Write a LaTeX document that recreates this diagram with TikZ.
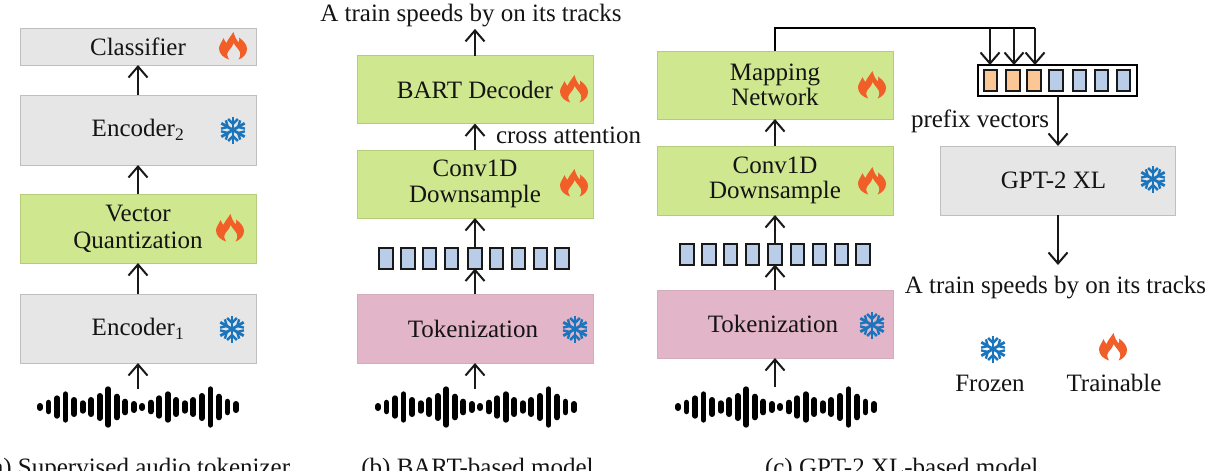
\documentclass[tikz,border=0pt]{standalone}
\usepackage{fontspec}
\setmainfont{Liberation Serif}
\usetikzlibrary{arrows.meta}
\definecolor{gfill}{HTML}{E6E6E6}
\definecolor{gfillb}{HTML}{BFBFBF}
\definecolor{lfill}{HTML}{CFE78F}
\definecolor{lfillb}{HTML}{B5CC7C}
\definecolor{pfill}{HTML}{E3B5C8}
\definecolor{flamec}{HTML}{F15E27}
\definecolor{snowc}{HTML}{1B75BC}
\definecolor{tokb}{HTML}{B9CCE8}
\definecolor{toko}{HTML}{FAC795}
\tikzset{
  x=1pt,y=-1pt,
  every node/.style={inner sep=0pt,outer sep=0pt,font=\fontsize{25}{25.5}\selectfont,text=black!92},
  boxg/.style={draw=gfillb,line width=.8pt,fill=gfill,minimum width=236,align=center},
  boxl/.style={draw=lfillb,line width=.8pt,fill=lfill,minimum width=236,align=center},
  boxp/.style={draw=pfill!85!gray,line width=.8pt,fill=pfill,minimum width=236,align=center},
  tokcell/.style={draw=black!90,line width=2pt,fill=tokb,minimum width=13.5,minimum height=21},
  orgcell/.style={tokcell,fill=toko},
  arr/.style={draw=black!90,line width=2pt,-{Straight Barb[length=11,width=19,line width=2pt]}},
  plainline/.style={draw=black,line width=2pt},
  pics/flame/.style={code={
    \fill[flamec,even odd rule] (0.5,-14) .. controls (2,-8) and (4,-6) .. (5.5,-3.5)
      .. controls (6.5,-5) and (6.5,-7) .. (6,-8.5)
      .. controls (11,-5) and (14,-1) .. (14,3)
      .. controls (14,8) and (10,12) .. (5.5,13.5)
      .. controls (8,10) and (8,6) .. (5,3)
      .. controls (4,1.5) and (2,-0.5) .. (0.5,-3)
      .. controls (0,0) and (-3,3) .. (-4.5,5)
      .. controls (-6.5,8) and (-6,11) .. (-4,13.5)
      .. controls (-9,12) and (-14,8) .. (-14,2.5)
      .. controls (-14,-1) and (-11,-4) .. (-9.5,-8)
      .. controls (-8.5,-5.5) and (-8,-4.5) .. (-6.5,-3)
      .. controls (-5,-7) and (-2,-10) .. (0.5,-14) -- cycle;
  }},
  pics/snow/.style={code={
    \foreach \a in {90,30,-30}{
      \draw[snowc,line width=2.8pt,rotate=\a] (-13.5,0) -- (13.5,0);
    }
    \foreach \a in {0,60,120,180,240,300}{
      \begin{scope}[rotate=\a+30]
      \draw[snowc,line width=2.4pt] (11,-4.8) -- (6,0) -- (11,4.8);
      \end{scope}
    }
  }},
  pics/wave/.style={code={
    \foreach \i/\h in {0/4,1/7.3,2/11.7,3/15.7,4/10,5/6.7,6/10,7/14,8/20.7,9/13.3,10/8.3,11/6,
                       12/4,13/7.3,14/11.7,15/15.7,16/10,17/6.7,18/10,19/14,20/20.7,21/13.3,22/8.3,23/6}{
      \draw[black,line width=5.8pt,line cap=round] ({\i*8.52},{-\h+2.9}) -- ({\i*8.52},{\h-2.9});
    }
  }}
}
\begin{document}
\begin{tikzpicture}
\clip (0,0) rectangle (1208,471);
\fill[white] (0,0) rectangle (1208,471);

% column a
\node[boxg,minimum height=37] (cls) at (138,46.5) {Classifier};
\node[boxg,minimum height=70] (enc2) at (138,130) {Encoder\textsubscript{2}};
\node[boxl,minimum height=69] (vq) at (138,228.5) {Vector\\[1.5pt]Quantization};
\node[boxg,minimum height=69] (enc1) at (138,328.5) {Encoder\textsubscript{1}};
\coordinate (wavea) at (138,389);
\pic at (40,407) {wave};
\draw[arr] (vq.north) -- (enc2.south);
\draw[arr] (enc2.north) -- (cls.south);
\draw[arr] (enc1.north) -- (vq.south);
\draw[arr] (wavea) -- (enc1.south);
\pic at (233,46) {flame};
\pic at (233,130) {snow};
\pic at (230,228) {flame};
\pic at (232,329) {snow};

% column b
\node[anchor=base] (outb) at (471,21) {A train speeds by on its tracks};
\node[boxl,minimum height=68] (bart) at (475,89.5) {BART Decoder};
\node[boxl,minimum height=68] (convb) at (475,184) {Conv1D\\Downsample};
\node[boxp,minimum height=69] (tokb) at (475,328.5) {Tokenization\hspace*{4pt}};
\foreach \i/\xx in {1/386,2/408,3/429.5,4/451.5,5/475,6/496.5,7/518.5,8/540.5,9/562}{
  \node[tokcell] (tb\i) at (\xx,258) {};
}
\coordinate (waveb) at (475,389);
\pic at (378,407) {wave};
\draw[arr,shorten >=2.5pt] (bart.north) -- (bart.north |- outb.south);
\draw[arr] (convb.north) -- (bart.south);
\draw[arr] (tb5.north) -- (convb.south);
\draw[arr] (tokb.north) -- (tb5.south);
\draw[arr] (waveb) -- (tokb.south);
\node[anchor=base west] (cross) at (496,143) {cross attention};
\pic at (574,89) {flame};
\pic at (574,183) {flame};
\pic at (575,329) {snow};

% column c
\node[boxl,minimum height=68] (map) at (775,85) {Mapping\\Network};
\node[boxl,minimum height=69] (convc) at (775,180.5) {Conv1D\\Downsample};
\node[boxp,minimum height=68] (tokc) at (775,324) {Tokenization\hspace*{4pt}};
\foreach \i/\xx in {1/687,2/709,3/730.5,4/752.5,5/775,6/797.5,7/819.5,8/841.5,9/863}{
  \node[tokcell] (tc\i) at (\xx,254) {};
}
\coordinate (wavec) at (775,387);
\pic at (678,407) {wave};
\draw[arr] (convc.north) -- (map.south);
\draw[arr] (tc5.north) -- (convc.south);
\draw[arr] (tokc.north) -- (tc5.south);
\draw[arr] (wavec) -- (tokc.south);
\pic at (872,85) {flame};
\pic at (872,181) {flame};
\pic at (872,325) {snow};

% prefix
\node[draw=black,line width=2pt,fill=white,minimum width=159,minimum height=31] (bar) at (1057.5,80.5) {};
\foreach \i/\xx in {1/990.5,2/1013,3/1034}{ \node[orgcell] (p\i) at (\xx,80.5) {}; }
\foreach \i/\xx in {4/1056,5/1079.5,6/1101.5,7/1123.5}{ \node[tokcell] (p\i) at (\xx,80.5) {}; }
\coordinate (corner) at (775,28);
\coordinate (j1) at (990,28);
\coordinate (j2) at (1014,28);
\coordinate (j3) at (1035,28);
\draw[plainline] (map.north) -- (corner) -- (j3);
\draw[arr] (j1) -- (j1 |- bar.north);
\draw[arr] (j2) -- (j2 |- bar.north);
\draw[arr] (j3) -- (j3 |- bar.north);
\node[boxg,minimum width=235,minimum height=69] (gpt) at (1057.5,180.5) {GPT-2 XL\hspace*{8pt}};
\coordinate (tapb) at (1058,96);
\draw[arr] (tapb) -- (tapb |- gpt.north);
\node[anchor=base] (outc) at (1055.5,293) {A train speeds by on its tracks};
\coordinate (tapc) at (1058,215);
\draw[arr] (tapc) -- (1058,265);
\node[anchor=base west] (pfxt) at (911,127) {prefix vectors};
\pic at (1153,179) {snow};

% legend
\pic at (993,349) {snow};
\pic at (1113,347) {flame};
\node[anchor=base] (frozen) at (990,391) {Frozen};
\node[anchor=base] (train) at (1114,391) {Trainable};

% captions
\node[anchor=base] (capa) at (137,475) {(a) Supervised audio tokenizer};
\node[anchor=base] (capb) at (477.5,475) {(b) BART-based model};
\node[anchor=base west] (capc) at (765,475) {(c) GPT-2 XL-based model};
\end{tikzpicture}
\end{document}
